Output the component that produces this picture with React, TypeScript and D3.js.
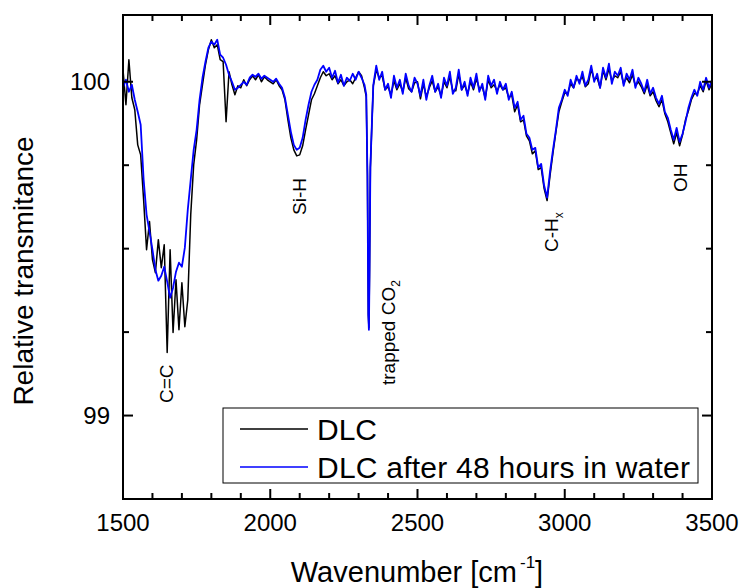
import React from 'react';
import * as d3 from 'd3';

// Wavenumber grid (cm^-1): regular 10 cm^-1 steps plus extra points across the narrow CO2 line
const wavenumber: number[] = [
  ...d3.range(1500, 2321, 10),
  2326, 2330, 2333, 2335, 2337, 2340, 2345,
  ...d3.range(2350, 3501, 10),
];

// DLC (black)
const dlc: number[] = [
  100.036, 99.931, 100.066, 99.952, 99.916, 99.811, 99.781, 99.647, 99.497, 99.581,
  99.467, 99.428, 99.527, 99.443, 99.512, 99.189, 99.497, 99.249, 99.407, 99.257,
  99.398, 99.266, 99.347, 99.602, 99.751, 99.826, 99.931, 99.991, 100.051, 100.096,
  100.126, 100.102, 100.111, 100.066, 100.060, 99.880, 100.030, 99.991, 99.961, 99.988,
  99.982, 100.006, 99.988, 100.006, 100.018, 100.006, 100.021, 100.000, 100.015, 100.006,
  100.000, 99.994, 100.006, 99.988, 99.976, 99.946, 99.886, 99.832, 99.796, 99.778,
  99.781, 99.808, 99.856, 99.901, 99.946, 99.964, 99.988, 100.012, 100.030, 100.018,
  100.024, 100.006, 100.018, 99.994, 100.006, 99.988, 100.000, 100.006, 99.994, 100.012,
  100.030, 100.018, 99.982,
  99.955, 99.722, 99.302, 99.263, 99.422, 99.743, 99.871,
  99.988, 100.036, 100.012, 100.018, 99.976, 99.985, 99.961, 100.003, 99.976, 99.994,
  99.970, 100.012, 99.979, 99.970, 99.997, 100.000, 99.949, 99.994, 99.955, 99.982,
  100.003, 99.970, 99.985, 99.958, 100.000, 99.982, 100.015, 99.973, 99.973, 100.024,
  99.976, 99.991, 99.964, 100.000, 99.976, 100.009, 99.979, 99.985, 99.952, 100.006,
  99.982, 99.991, 99.973, 99.991, 99.976, 99.982, 99.952, 99.961, 99.910, 99.931,
  99.880, 99.886, 99.838, 99.823, 99.784, 99.793, 99.737, 99.743, 99.680, 99.644,
  99.719, 99.787, 99.850, 99.910, 99.940, 99.967, 99.964, 99.994, 99.982, 100.009,
  100.003, 100.015, 99.985, 99.994, 100.039, 100.006, 100.012, 99.982, 100.033, 100.006,
  100.039, 100.003, 100.018, 100.012, 100.030, 99.994, 100.012, 99.997, 100.021, 99.988,
  100.000, 99.985, 99.964, 99.991, 99.958, 99.970, 99.943, 99.925, 99.946, 99.904,
  99.880, 99.847, 99.814, 99.847, 99.808, 99.841, 99.886, 99.913, 99.946, 99.964,
  99.964, 99.988, 99.970, 100.003, 99.976, 99.997,
];

// DLC after 48 hours in water (blue)
const dlcWater: number[] = [
  99.982, 100.006, 99.970, 99.991, 99.946, 99.910, 99.871, 99.707, 99.602, 99.551,
  99.497, 99.437, 99.404, 99.419, 99.446, 99.401, 99.353, 99.383, 99.431, 99.458,
  99.446, 99.503, 99.617, 99.707, 99.796, 99.856, 99.946, 100.012, 100.060, 100.102,
  100.120, 100.111, 100.126, 100.081, 100.072, 100.051, 100.021, 100.000, 99.976, 99.982,
  99.991, 100.000, 99.991, 100.012, 100.021, 100.015, 100.024, 100.009, 100.018, 100.012,
  100.006, 100.000, 100.009, 99.994, 99.982, 99.952, 99.901, 99.850, 99.811, 99.796,
  99.802, 99.832, 99.886, 99.931, 99.970, 99.991, 100.006, 100.036, 100.048, 100.030,
  100.042, 100.012, 100.033, 99.997, 100.021, 99.988, 100.012, 100.003, 100.024, 100.006,
  100.030, 100.012, 99.991,
  99.961, 99.722, 99.302, 99.257, 99.422, 99.743, 99.871,
  99.991, 100.048, 100.006, 100.030, 99.976, 99.994, 99.952, 100.018, 99.982, 100.006,
  99.964, 100.024, 99.988, 99.970, 100.012, 99.994, 99.958, 100.006, 99.946, 99.988,
  100.018, 99.970, 99.994, 99.952, 100.012, 99.988, 100.030, 99.964, 99.982, 100.036,
  99.976, 100.000, 99.958, 100.012, 99.982, 100.024, 99.970, 99.994, 99.946, 100.018,
  99.988, 100.006, 99.964, 100.000, 99.976, 99.994, 99.946, 99.970, 99.922, 99.940,
  99.886, 99.898, 99.844, 99.832, 99.796, 99.802, 99.743, 99.754, 99.689, 99.653,
  99.731, 99.796, 99.856, 99.922, 99.946, 99.976, 99.958, 100.006, 99.982, 100.018,
  99.994, 100.030, 99.988, 100.006, 100.048, 100.000, 100.024, 99.982, 100.042, 100.012,
  100.054, 99.994, 100.030, 100.018, 100.042, 99.988, 100.024, 100.006, 100.036, 99.982,
  100.012, 99.994, 99.970, 100.006, 99.964, 99.982, 99.952, 99.934, 99.958, 99.910,
  99.892, 99.856, 99.826, 99.862, 99.820, 99.844, 99.880, 99.922, 99.952, 99.976,
  99.958, 100.000, 99.976, 100.012, 99.982, 100.006,
];

const xMajorTicks = [1500, 2000, 2500, 3000, 3500];
const xMinorTicks = d3.range(1500, 3501, 100);
const yMajorTicks = [99, 100];
const yMinorTicks = [98.75, 99, 99.25, 99.5, 99.75, 100];

const seriesNames = ['DLC', 'DLC after 48 hours in water'];
const seriesColors = ['#000000', '#0000ff'];

const W = 744;
const H = 588;
const FONT = '"Liberation Sans", Arial, "DejaVu Sans", sans-serif';

export default function App() {
  const left = 123, right = 712, top = 15, bottom = 499;
  const x = d3.scaleLinear().domain([1500, 3500]).range([left, right]);
  const y = d3.scaleLinear().domain([98.75, 100.2]).range([bottom, top]);

  const line = d3
    .line<number>()
    .x((_, i) => x(wavenumber[i]))
    .y((d) => y(d));

  const majorLen = 10;
  const minorLen = 6;

  return (
    <svg
      width={W}
      height={H}
      style={{ position: 'absolute', left: 0, top: 0, background: '#fff' }}
      fontFamily={FONT}
    >
      <defs>
        <clipPath id="plot">
          <rect x={left} y={top} width={right - left} height={bottom - top} />
        </clipPath>
      </defs>
      <rect x={0} y={0} width={W} height={H} fill="#fff" />

      <g clipPath="url(#plot)">
        <path d={line(dlc) || ''} fill="none" stroke={seriesColors[0]} strokeWidth={1.5} strokeLinejoin="round" />
        <path d={line(dlcWater) || ''} fill="none" stroke={seriesColors[1]} strokeWidth={1.8} strokeLinejoin="round" />
      </g>

      {/* frame */}
      <rect x={left} y={top} width={right - left} height={bottom - top} fill="none" stroke="#000" strokeWidth={2} />

      {/* x ticks */}
      {xMinorTicks.map((t) => {
        const len = xMajorTicks.includes(t) ? majorLen : minorLen;
        return (
          <g key={'xt' + t}>
            <line x1={x(t)} x2={x(t)} y1={bottom} y2={bottom - len} stroke="#000" strokeWidth={2} />
            <line x1={x(t)} x2={x(t)} y1={top} y2={top + len} stroke="#000" strokeWidth={2} />
          </g>
        );
      })}
      {xMajorTicks.map((t) => (
        <text key={'xl' + t} x={x(t)} y={531} fontSize={24} textAnchor="middle" fill="#000">
          {t}
        </text>
      ))}

      {/* y ticks */}
      {yMinorTicks.map((t) => {
        const len = yMajorTicks.includes(t) ? majorLen : minorLen;
        return (
          <g key={'yt' + t}>
            <line x1={left} x2={left + len} y1={y(t)} y2={y(t)} stroke="#000" strokeWidth={2} />
            <line x1={right} x2={right - len} y1={y(t)} y2={y(t)} stroke="#000" strokeWidth={2} />
          </g>
        );
      })}
      {yMajorTicks.map((t) => (
        <text key={'yl' + t} x={110} y={y(t) + 8.5} fontSize={24} textAnchor="end" fill="#000">
          {t}
        </text>
      ))}

      {/* axis titles */}
      <text x={417} y={582} fontSize={29} textAnchor="middle" fill="#000">
        Wavenumber [cm
        <tspan fontSize={17} dy={-14} dx={3}>-1</tspan>
        <tspan dy={14}>]</tspan>
      </text>
      <text transform="translate(33,271) rotate(-90)" fontSize={28} textAnchor="middle" fill="#000">
        Relative transmitance
      </text>

      {/* band annotations */}
      <text transform="translate(173,403) rotate(-90)" fontSize={19} fill="#000">C=C</text>
      <text transform="translate(306,215) rotate(-90)" fontSize={19} fill="#000">Si-H</text>
      <text transform="translate(395,385) rotate(-90)" fontSize={19} fill="#000">
        trapped CO<tspan fontSize={12} dy={5}>2</tspan>
      </text>
      <text transform="translate(558,252) rotate(-90)" fontSize={19} fill="#000">
        C-H<tspan fontSize={12} dy={5}>x</tspan>
      </text>
      <text transform="translate(687,192) rotate(-90)" fontSize={19} fill="#000">OH</text>

      {/* legend */}
      <rect x={223} y={408} width={475} height={75} fill="#fff" stroke="#000" strokeWidth={1} />
      {seriesNames.map((name, i) => (
        <g key={name}>
          <line x1={240} x2={308} y1={429 + i * 38} y2={429 + i * 38} stroke={seriesColors[i]} strokeWidth={1.4} />
          <text x={317} y={439.5 + i * 38} fontSize={30} fill="#000" textLength={i === 1 ? 373 : undefined}>
            {name}
          </text>
        </g>
      ))}
    </svg>
  );
}
